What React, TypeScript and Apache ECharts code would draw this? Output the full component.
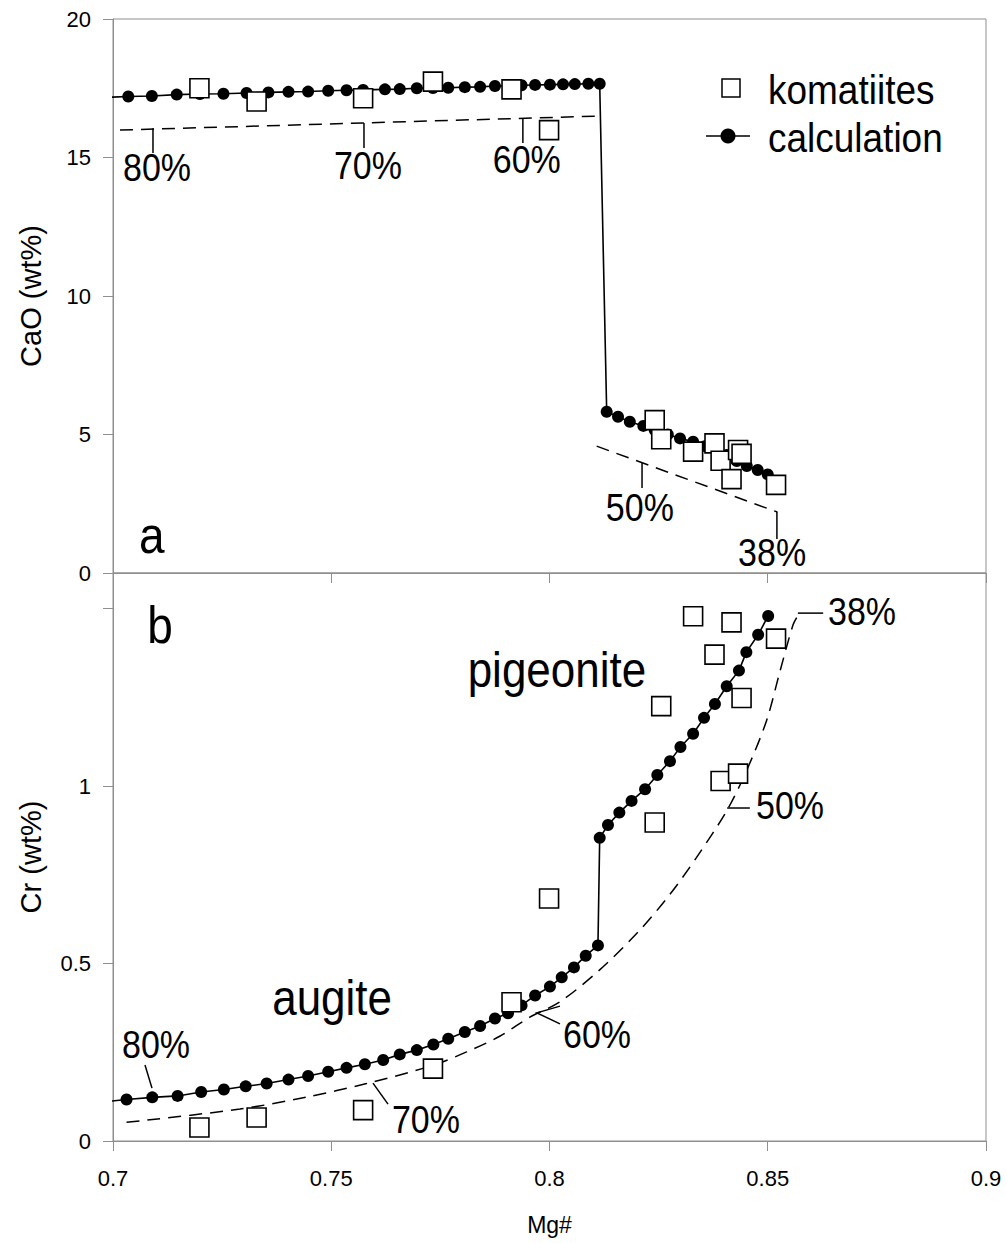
import React, { useEffect, useRef } from "react";
import * as echarts from "echarts";

const FONT = "'Liberation Sans', Arial, Helvetica, sans-serif";
const AXIS_GRAY = "#8f8f8f";

// ---- tick values ----
const xTicks = [0.7, 0.75, 0.8, 0.85, 0.9];
const caoTicks = [0, 5, 10, 15, 20];
const crTicks = [0, 0.5, 1, 1.5];
const crTickLabels = [0, 0.5, 1];

// ---- legend entries ----
const legendNames = ["komatiites", "calculation"];

// ---- komatiites (same samples in both panels) ----
const komMg = [0.7198, 0.7329, 0.7573, 0.7733, 0.7913, 0.7999, 0.8241, 0.8256, 0.8329, 0.8378, 0.8392, 0.8432, 0.844, 0.8417, 0.8519];
const komCaO = [17.5, 17.02, 17.14, 17.74, 17.46, 15.99, 5.52, 4.83, 4.38, 4.68, 4.05, 4.44, 4.3, 3.39, 3.18];
const komCr = [0.038, 0.066, 0.087, 0.204, 0.391, 0.683, 0.897, 1.225, 1.478, 1.37, 1.014, 1.035, 1.248, 1.461, 1.415];

// ---- calculation, CaO panel ----
const calcCaOLeadMg = 0.6977;
const calcCaOLead = 17.17;
const calcCaOMg = [
  0.7035, 0.7089, 0.7146, 0.7199, 0.7253, 0.7306, 0.7356, 0.7402, 0.7447, 0.7493,
  0.7535, 0.7573, 0.7623, 0.7657, 0.7696, 0.7733, 0.7768, 0.7806, 0.7841, 0.7875,
  0.7905, 0.7936, 0.7967, 0.8001, 0.8031, 0.8058, 0.8089, 0.8115,
  0.8131, 0.8157, 0.8184, 0.8215, 0.8241, 0.8271, 0.8299, 0.8329, 0.8356, 0.8381,
  0.8406, 0.8429, 0.8452, 0.8477, 0.85,
];
const calcCaO = [
  17.2, 17.22, 17.27, 17.29, 17.3, 17.33, 17.35, 17.37, 17.38, 17.41,
  17.43, 17.44, 17.46, 17.47, 17.5, 17.51, 17.52, 17.54, 17.55, 17.58,
  17.59, 17.61, 17.62, 17.63, 17.64, 17.65, 17.66, 17.66,
  5.82, 5.64, 5.46, 5.31, 5.16, 5.0, 4.86, 4.74, 4.58, 4.44,
  4.26, 4.04, 3.86, 3.72, 3.56,
];

// ---- calculation, Cr panel ----
const calcCrLeadMg = 0.6977;
const calcCrLead = 0.11;
const calcCrMg = [
  0.7031, 0.709, 0.7148, 0.7202, 0.7254, 0.7304, 0.7352, 0.7402, 0.7447, 0.7493,
  0.7535, 0.7577, 0.7619, 0.7657, 0.7696, 0.7734, 0.7768, 0.7806, 0.7841, 0.7875,
  0.7905, 0.7936, 0.7967, 0.8001, 0.8028, 0.8056, 0.8083, 0.8111,
  0.8115, 0.8134, 0.816, 0.8188, 0.8219, 0.8247, 0.8276, 0.83, 0.8329, 0.8354,
  0.8379, 0.8406, 0.8434, 0.8451, 0.8478, 0.8501,
];
const calcCr = [
  0.117, 0.123, 0.127, 0.138, 0.145, 0.154, 0.162, 0.173, 0.183, 0.195,
  0.206, 0.216, 0.228, 0.244, 0.256, 0.272, 0.288, 0.307, 0.324, 0.345,
  0.36, 0.382, 0.41, 0.435, 0.461, 0.489, 0.522, 0.551,
  0.854, 0.89, 0.925, 0.958, 0.991, 1.031, 1.07, 1.11, 1.147, 1.192,
  1.231, 1.281, 1.325, 1.377, 1.426, 1.479,
];

// ---- dashed model curves ----
const modelCaOUpperMg = [0.7016, 0.8122];
const modelCaOUpper = [15.99, 16.5];
const modelCaOLowerMg = [0.8108, 0.8522];
const modelCaOLower = [4.58, 2.2];
const modelCrMg = [
  0.7031, 0.7291, 0.7444, 0.7581, 0.7733, 0.781, 0.7886, 0.7955, 0.8024, 0.8115,
  0.8207, 0.8276, 0.8337, 0.8406, 0.8451, 0.8497, 0.8528, 0.8558, 0.857,
];
const modelCr = [
  0.0525, 0.09, 0.124, 0.162, 0.213, 0.251, 0.295, 0.349, 0.392, 0.482,
  0.594, 0.695, 0.799, 0.93, 1.042, 1.183, 1.323, 1.454, 1.482,
];

// ---- annotations (data coordinates of their panel) ----
const pctLabels = [
  { grid: 0, text: "80%", at: [0.7101, 14.64], leader: [[0.70916, 16.06], [0.70916, 15.16]] },
  { grid: 0, text: "70%", at: [0.7584, 14.69], leader: [[0.7575, 16.25], [0.7575, 15.34]] },
  { grid: 0, text: "60%", at: [0.7948, 14.91], leader: [[0.7939, 16.43], [0.7939, 15.52]] },
  { grid: 0, text: "50%", at: [0.8207, 2.35], leader: [[0.8212, 3.97], [0.8212, 3.07]] },
  { grid: 0, text: "38%", at: [0.851, 0.72], leader: [[0.8521, 2.2], [0.8521, 1.23]] },
  { grid: 1, text: "80%", at: [0.70985, 0.27], leader: [[0.70733, 0.214], [0.70893, 0.149]] },
  { grid: 1, text: "70%", at: [0.7717, 0.059], leader: [[0.75956, 0.163], [0.763, 0.104]] },
  { grid: 1, text: "60%", at: [0.8109, 0.299], leader: [[0.8024, 0.38], [0.7971, 0.361], [0.8024, 0.33]] },
  { grid: 1, text: "50%", at: [0.8551, 0.944], leader: [[0.8407, 0.938], [0.8459, 0.938]] },
  { grid: 1, text: "38%", at: [0.8716, 1.49], leader: [[0.8569, 1.487], [0.8627, 1.487]] },
];
const phaseLabels = [
  { grid: 1, text: "pigeonite", at: [0.8017, 1.327] },
  { grid: 1, text: "augite", at: [0.7502, 0.403] },
];
const panelLabels = [
  { grid: 0, text: "a", at: [0.7089, 1.37] },
  { grid: 1, text: "b", at: [0.7108, 1.453] },
];

const zip = (xs: number[], ys: number[]) => xs.map((x, i) => [x, ys[i]]);

function buildOption(): any {
  const xAxisBase = {
    type: "value",
    min: 0.7,
    max: 0.9,
    axisLine: { show: true, lineStyle: { color: AXIS_GRAY, width: 1 } },
    axisTick: { show: true, length: 10, customValues: xTicks, lineStyle: { color: AXIS_GRAY } },
    splitLine: { show: false },
  };
  const dotStyle = { color: "#000", opacity: 1 };
  const squareStyle = { color: "#fff", borderColor: "#000", borderWidth: 1.6, opacity: 1 };
  return {
    animation: false,
    backgroundColor: "#fff",
    textStyle: { fontFamily: FONT },
    grid: [
      { left: 113, top: 19, width: 873, height: 554, show: true, borderColor: AXIS_GRAY, borderWidth: 1 },
      { left: 113, top: 573, width: 873, height: 568, show: true, borderColor: AXIS_GRAY, borderWidth: 1 },
    ],
    xAxis: [
      { ...xAxisBase, gridIndex: 0, axisLabel: { show: false } },
      {
        ...xAxisBase,
        gridIndex: 1,
        name: "Mg#",
        nameLocation: "middle",
        nameGap: 72,
        nameTextStyle: { fontSize: 23, color: "#000", fontFamily: FONT },
        axisLabel: {
          show: true,
          customValues: xTicks,
          fontSize: 22,
          color: "#000",
          margin: 26,
          fontFamily: FONT,
          formatter: (v: number) => String(v),
        },
      },
    ],
    yAxis: [
      {
        type: "value",
        gridIndex: 0,
        min: 0,
        max: 20,
        interval: 5,
        name: "CaO (wt%)",
        nameLocation: "middle",
        nameGap: 68,
        nameTextStyle: { fontSize: 29, color: "#000", fontFamily: FONT },
        axisLine: { show: true, lineStyle: { color: AXIS_GRAY } },
        axisTick: { show: true, length: 10, customValues: caoTicks, lineStyle: { color: AXIS_GRAY } },
        axisLabel: { customValues: caoTicks, fontSize: 22, color: "#000", margin: 22, fontFamily: FONT, formatter: (v: number) => String(v) },
        splitLine: { show: false },
      },
      {
        type: "value",
        gridIndex: 1,
        min: 0,
        max: 1.6,
        name: "Cr (wt%)",
        nameLocation: "middle",
        nameGap: 68,
        nameTextStyle: { fontSize: 29, color: "#000", fontFamily: FONT },
        axisLine: { show: true, lineStyle: { color: AXIS_GRAY } },
        axisTick: { show: true, length: 10, customValues: crTicks, lineStyle: { color: AXIS_GRAY } },
        axisLabel: { customValues: crTickLabels, fontSize: 22, color: "#000", margin: 22, fontFamily: FONT, formatter: (v: number) => String(v) },
        splitLine: { show: false },
      },
    ],
    series: [
      {
        name: "model",
        type: "line",
        xAxisIndex: 0,
        yAxisIndex: 0,
        data: zip(modelCaOUpperMg, modelCaOUpper),
        symbol: "none",
        lineStyle: { color: "#000", width: 1.5, type: [13, 8] },
        z: 2,
      },
      {
        name: "model",
        type: "line",
        xAxisIndex: 0,
        yAxisIndex: 0,
        data: zip(modelCaOLowerMg, modelCaOLower),
        symbol: "none",
        lineStyle: { color: "#000", width: 1.5, type: [13, 8] },
        z: 2,
      },
      {
        name: "model",
        type: "line",
        xAxisIndex: 1,
        yAxisIndex: 1,
        data: zip(modelCrMg, modelCr),
        symbol: "none",
        smooth: 0.3,
        lineStyle: { color: "#000", width: 1.5, type: [13, 8] },
        z: 2,
      },
      {
        name: legendNames[1],
        type: "line",
        xAxisIndex: 0,
        yAxisIndex: 0,
        clip: false,
        data: [{ value: [calcCaOLeadMg, calcCaOLead], symbol: "none" }, ...zip(calcCaOMg, calcCaO)],
        symbol: "circle",
        symbolSize: 12,
        showAllSymbol: true,
        itemStyle: dotStyle,
        lineStyle: { color: "#000", width: 1.6 },
        z: 3,
      },
      {
        name: legendNames[1],
        type: "line",
        xAxisIndex: 1,
        yAxisIndex: 1,
        clip: false,
        data: [{ value: [calcCrLeadMg, calcCrLead], symbol: "none" }, ...zip(calcCrMg, calcCr)],
        symbol: "circle",
        symbolSize: 12,
        showAllSymbol: true,
        itemStyle: dotStyle,
        lineStyle: { color: "#000", width: 1.6 },
        z: 3,
      },
      {
        name: legendNames[0],
        type: "scatter",
        xAxisIndex: 0,
        yAxisIndex: 0,
        data: zip(komMg, komCaO),
        symbol: "rect",
        symbolSize: 19,
        itemStyle: squareStyle,
        z: 4,
      },
      {
        name: legendNames[0],
        type: "scatter",
        xAxisIndex: 1,
        yAxisIndex: 1,
        data: zip(komMg, komCr),
        symbol: "rect",
        symbolSize: 19,
        itemStyle: squareStyle,
        z: 4,
      },
    ],
  };
}

function legendGraphics(): any[] {
  const textStyle = (text: string) => ({
    text,
    fontSize: 37,
    fontFamily: FONT,
    fill: "#000",
    align: "left",
    verticalAlign: "middle",
  });
  return [
    {
      type: "rect",
      z: 20,
      shape: { x: 722, y: 79, width: 18, height: 18 },
      style: { fill: "#fff", stroke: "#000", lineWidth: 1.5 },
    },
    { type: "text", z: 20, x: 768, y: 89, scaleY: 1.12, style: textStyle(legendNames[0]) },
    {
      type: "line",
      z: 20,
      shape: { x1: 706, y1: 136, x2: 750, y2: 136 },
      style: { stroke: "#000", lineWidth: 1.6 },
    },
    { type: "circle", z: 21, shape: { cx: 728, cy: 136, r: 7.5 }, style: { fill: "#000" } },
    { type: "text", z: 20, x: 768, y: 137, scaleY: 1.12, style: textStyle(legendNames[1]) },
  ];
}

export default function App() {
  const ref = useRef<HTMLDivElement>(null);
  useEffect(() => {
    const el = ref.current;
    if (!el) return;
    const chart = echarts.init(el, undefined, { renderer: "svg" });
    chart.setOption(buildOption());

    const px = (grid: number, p: number[]) => chart.convertToPixel({ gridIndex: grid } as any, p) as number[];
    const graphics: any[] = [...legendGraphics()];
    const addText = (grid: number, text: string, at: number[], size: number, sy: number) => {
      const [x, y] = px(grid, at);
      graphics.push({
        type: "text",
        x,
        y,
        scaleY: sy,
        z: 10,
        style: { text, fontSize: size, fontFamily: FONT, fill: "#000", align: "center", verticalAlign: "middle" },
      });
    };
    pctLabels.forEach((a) => {
      const pts = a.leader.map((p) => px(a.grid, p));
      graphics.push({ type: "polyline", z: 10, shape: { points: pts }, style: { stroke: "#000", lineWidth: 1.5, fill: null } });
      addText(a.grid, a.text, a.at, 34, 1.15);
    });
    phaseLabels.forEach((a) => addText(a.grid, a.text, a.at, 44, 1.12));
    panelLabels.forEach((a) => addText(a.grid, a.text, a.at, 46, 1.12));
    chart.setOption({ graphic: graphics });

    return () => chart.dispose();
  }, []);
  return (
    <div
      ref={ref}
      style={{ position: "absolute", left: 0, top: 0, width: 1006, height: 1243, background: "#fff" }}
    />
  );
}
